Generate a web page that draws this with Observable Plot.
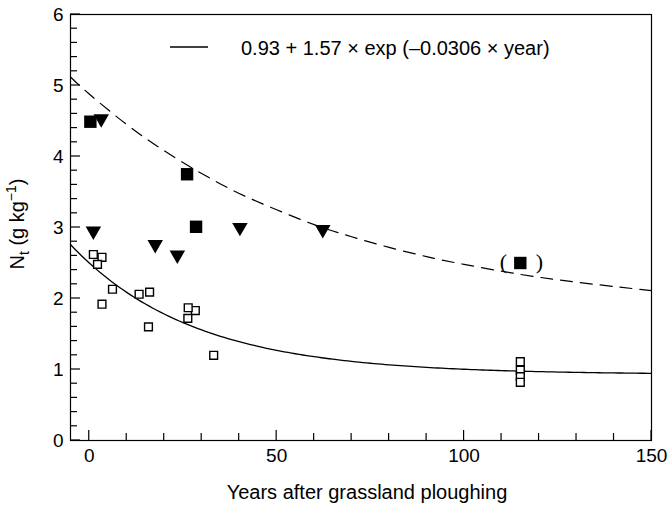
<!DOCTYPE html>
<html>
<head>
<meta charset="utf-8">
<script src="https://cdn.jsdelivr.net/npm/d3@7"></script>
<script src="https://cdn.jsdelivr.net/npm/@observablehq/plot@0.6"></script>
<style>
  body { margin: 0; background: #fff; }
  #chart svg { display: block; }
</style>
</head>
<body>
<div id="chart"></div>
<script>
// Total soil N (g/kg) against years since grassland was ploughed.
// Open squares: sites used for the fitted decay curve.
const openYears = [1.1, 3.4, 2.2, 3.4, 6.2, 13.3, 16.1, 15.8, 28.3, 26.4, 26.3, 33.2, 115, 115, 115, 115];
const openN     = [2.62, 2.58, 2.48, 1.92, 2.13, 2.06, 2.09, 1.60, 1.83, 1.87, 1.72, 1.20, 1.11, 0.99, 0.90, 0.82];

// Filled squares (the one at 115 years is bracketed).
const squareYears = [0.3, 26.1, 28.5];
const squareN     = [4.49, 3.75, 3.01];
const bracketYears = [115];
const bracketN     = [2.50];

// Filled down-pointing triangles.
const triangleYears = [3.2, 1.1, 17.6, 23.5, 40.2, 62.3];
const triangleN     = [4.50, 2.92, 2.73, 2.58, 2.97, 2.94];

// Dashed upper envelope, sampled along its course.
const upperYears = [-5, 0, 10, 20, 30, 40, 50, 60, 70, 80, 90, 100, 115, 130, 150];
const upperN     = [5.12, 4.88, 4.45, 4.08, 3.76, 3.48, 3.25, 3.04, 2.87, 2.72, 2.59, 2.48, 2.34, 2.23, 2.11];

// Fitted curve: Nt = a + b * exp(-k * year)
const fitA = 0.93, fitB = 1.57, fitK = 0.0306;
const fitLabel = "0.93 + 1.57 \u00d7 exp (\u20130.0306 \u00d7 year)";

// Axis ticks
const xMajor = [0, 50, 100, 150];
const xMinor = [10, 20, 30, 40, 60, 70, 80, 90, 110, 120, 130, 140];
const yMajor = [0, 1, 2, 3, 4, 5, 6];
const yMinor = d3.range(0, 6.0001, 0.2).filter(v => Math.abs(v - Math.round(v)) > 1e-6);

const xTitle = "Years after grassland ploughing";

const W = 672, H = 507;
const mL = 70, mR = 21, mT = 14, mB = 67;
const xDomain = [-5, 150], yDomain = [0, 6];

const open = openYears.map((x, i) => ({x, y: openN[i]}));
const squares = squareYears.map((x, i) => ({x, y: squareN[i]}));
const bracketed = bracketYears.map((x, i) => ({x, y: bracketN[i]}));
const triangles = triangleYears.map((x, i) => ({x, y: triangleN[i]}));
const upper = upperYears.map((x, i) => ({x, y: upperN[i]}));
const fitted = d3.range(-5, 150.01, 1).map(x => ({x, y: fitA + fitB * Math.exp(-fitK * x)}));

// Down-pointing triangle centred on its bounding box
const triangleDown = {
  draw(context, size) {
    const u = Math.sqrt(size / (3 * Math.sqrt(3)));
    const hw = Math.sqrt(3) * u;
    context.moveTo(0, 1.5 * u);
    context.lineTo(-hw, -1.5 * u);
    context.lineTo(hw, -1.5 * u);
    context.closePath();
  }
};

const font = "'Liberation Sans', Arial, Helvetica, sans-serif";
const serif = "'Liberation Serif', 'Times New Roman', serif";

const chart = Plot.plot({
  width: W,
  height: H,
  marginLeft: mL,
  marginRight: mR,
  marginTop: mT,
  marginBottom: mB,
  style: {fontFamily: font, fontSize: "19px", color: "#000", background: "#fff"},
  x: {domain: xDomain, axis: null},
  y: {domain: yDomain, axis: null},
  marks: [
    // tick labels
    Plot.axisX(xMajor, {tickSize: 0, tickPadding: 8, label: null, fontSize: 19, tickFormat: "d"}),
    Plot.axisY(yMajor, {tickSize: 0, tickPadding: 7, label: null, fontSize: 19, tickFormat: "d"}),
    Plot.frame({stroke: "#000", strokeWidth: 1.2}),
    // curves
    Plot.line(upper, {x: "x", y: "y", curve: "natural", stroke: "#000", strokeWidth: 1.2, strokeDasharray: "12,8"}),
    Plot.line(fitted, {x: "x", y: "y", stroke: "#000", strokeWidth: 1.3}),
    // points
    Plot.dot(open, {x: "x", y: "y", symbol: "square", r: 4.4, fill: "#fff", stroke: "#000", strokeWidth: 1.4}),
    Plot.dot(squares, {x: "x", y: "y", symbol: "square", r: 7, fill: "#000", stroke: "none"}),
    Plot.dot(bracketed, {x: "x", y: "y", symbol: "square", r: 7, fill: "#000", stroke: "none"}),
    Plot.text(bracketed, {x: "x", y: "y", text: () => "(", dx: -17, dy: -1, fontFamily: serif, fontSize: 22, fill: "#000"}),
    Plot.text(bracketed, {x: "x", y: "y", text: () => ")", dx: 19, dy: -1, fontFamily: serif, fontSize: 22, fill: "#000"}),
    Plot.dot(triangles, {x: "x", y: "y", symbol: triangleDown, r: 5.75, fill: "#000", stroke: "none"})
  ]
});

document.getElementById("chart").appendChild(chart);

const svg = d3.select(chart);

// inward tick marks, positioned with the plot's own x and y scales
const xs = chart.scale("x"), ys = chart.scale("y");
const sx = d3.scaleLinear(xs.domain, xs.range);
const sy = d3.scaleLinear(ys.domain, ys.range);
const x0 = sx(xDomain[0]), y0 = sy(yDomain[0]);
const ticks = svg.append("g").attr("stroke", "#000").attr("stroke-width", 1.2);
const xTicks = xMinor.map(v => [v, 7]).concat(xMajor.map(v => [v, 10]));
const yTicks = yMinor.map(v => [v, 7]).concat(yMajor.map(v => [v, 10]));
ticks.selectAll(".xt").data(xTicks).join("line")
  .attr("x1", d => sx(d[0])).attr("x2", d => sx(d[0]))
  .attr("y1", y0).attr("y2", d => y0 - d[1]);
ticks.selectAll(".yt").data(yTicks).join("line")
  .attr("y1", d => sy(d[0])).attr("y2", d => sy(d[0]))
  .attr("x1", x0).attr("x2", d => x0 + d[1]);

// legend for the fitted curve
const legend = svg.append("g").attr("font-family", font).attr("font-size", 20);
legend.append("line")
  .attr("x1", 170).attr("x2", 208).attr("y1", 47).attr("y2", 47)
  .attr("stroke", "#000").attr("stroke-width", 1.3);
legend.append("text")
  .attr("x", 241).attr("y", 54.5)
  .attr("text-anchor", "start")
  .attr("fill", "#000")
  .text(fitLabel);

// axis titles
svg.append("text")
  .attr("x", 367).attr("y", 499)
  .attr("text-anchor", "middle")
  .attr("font-family", font).attr("font-size", 20).attr("fill", "#000")
  .text(xTitle);

const yTitle = svg.append("text")
  .attr("transform", "translate(24,224) rotate(-90)")
  .attr("text-anchor", "middle")
  .attr("font-family", font).attr("font-size", 20).attr("fill", "#000");
yTitle.append("tspan").text("N");
yTitle.append("tspan").attr("dy", 5).attr("font-size", 14).text("t");
yTitle.append("tspan").attr("dy", -5).text(" (g kg");
yTitle.append("tspan").attr("dy", -8).attr("font-size", 14).text("\u22121");
yTitle.append("tspan").attr("dy", 8).text(")");
</script>
</body>
</html>
